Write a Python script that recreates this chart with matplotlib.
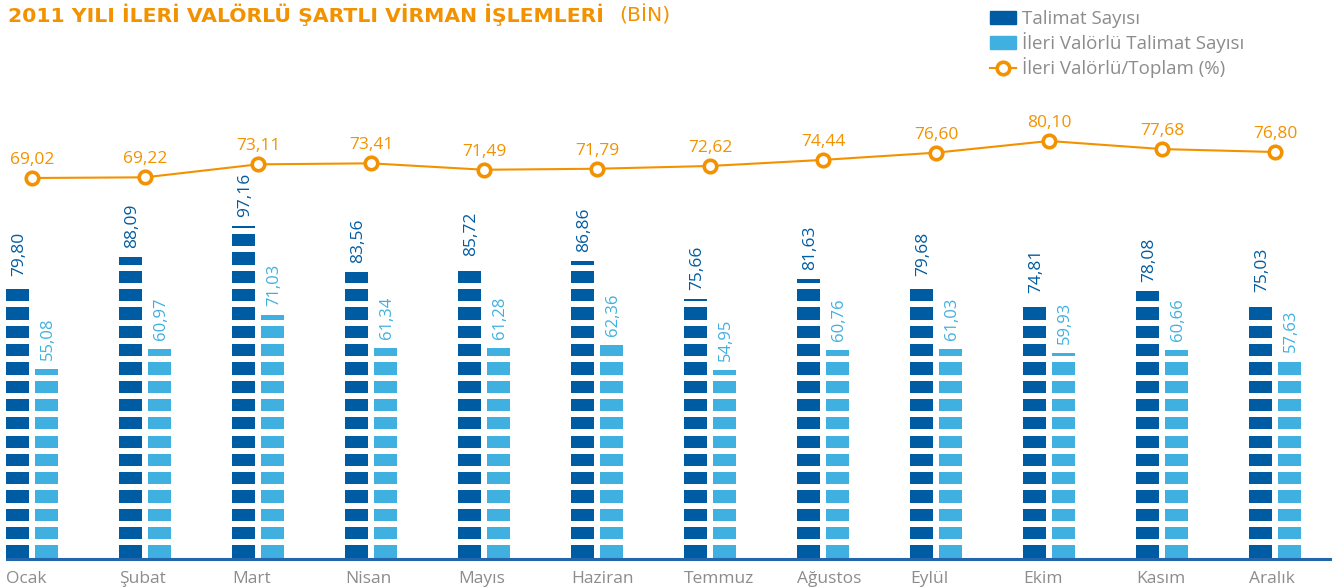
import matplotlib
matplotlib.use('Agg')
import matplotlib.pyplot as plt
from matplotlib.patches import Patch
from matplotlib.lines import Line2D

# %%
months = ['Ocak', 'Şubat', 'Mart', 'Nisan', 'Mayıs', 'Haziran',
          'Temmuz', 'Ağustos', 'Eylül', 'Ekim', 'Kasım', 'Aralık']
talimat = [79.80, 88.09, 97.16, 83.56, 85.72, 86.86, 75.66, 81.63, 79.68, 74.81, 78.08, 75.03]
ileri_valorlu = [55.08, 60.97, 71.03, 61.34, 61.28, 62.36, 54.95, 60.76, 61.03, 59.93, 60.66, 57.63]
oran = [69.02, 69.22, 73.11, 73.41, 71.49, 71.79, 72.62, 74.44, 76.60, 80.10, 77.68, 76.80]

legend_labels = ['Talimat Sayısı', 'İleri Valörlü Talimat Sayısı', 'İleri Valörlü/Toplam (%)']
title_main = '2011 YILI İLERİ VALÖRLÜ ŞARTLI VİRMAN İŞLEMLERİ'
title_unit = '(BİN)'

DARK = '#005ca2'
LIGHT = '#40b0e0'
ORANGE = '#f39200'
GREY = '#8c8c8c'

plt.rcParams['font.family'] = ['Open Sans', 'DejaVu Sans']
TITLE_FONT = ['DejaVu Sans']


def fmt(v):
    return f'{v:.2f}'.replace('.', ',')


def segmented_bars(ax, xs, values, width, color, pitch, block):
    # each bar is a stack of small blocks with white gaps
    bx, bb, bh = [], [], []
    for x, v in zip(xs, values):
        k = 0
        while k * pitch < v:
            bottom = k * pitch
            bx.append(x)
            bb.append(bottom)
            bh.append(min(block, v - bottom))
            k += 1
    ax.bar(bx, bh, width=width, bottom=bb, color=color, linewidth=0, zorder=2)


# %%
W, H = 1335, 587
fig = plt.figure(figsize=(W / 100, H / 100), dpi=100)
ax = fig.add_axes([0, 0, 1, 1])

group_px = 113.0
px_per_unit = 3.415
base_px = 29.5
ax.set_xlim(-32 / group_px, (W - 32) / group_px)
ax.set_ylim(-base_px / px_per_unit, (H - base_px) / px_per_unit)
ax.axis('off')

bar_w = 23 / group_px
off = 14.5 / group_px
pitch = 18.3 / px_per_unit
block = 12.2 / px_per_unit

x = list(range(len(months)))
x_dark = [i - off for i in x]
x_light = [i + off for i in x]

segmented_bars(ax, x_dark, talimat, bar_w, DARK, pitch, block)
segmented_bars(ax, x_light, ileri_valorlu, bar_w, LIGHT, pitch, block)

for xd, v in zip(x_dark, talimat):
    ax.annotate(fmt(v), (xd, v), xytext=(1, 6.5), textcoords='offset points',
                rotation=90, ha='center', va='bottom', color=DARK, fontsize=12.5)
for xl, v in zip(x_light, ileri_valorlu):
    ax.annotate(fmt(v), (xl, v), xytext=(1, 6.5), textcoords='offset points',
                rotation=90, ha='center', va='bottom', color=LIGHT, fontsize=12)

ax.axhline(-0.3, xmin=7 / W, xmax=1330 / W, color='#2466ab', lw=2.2, zorder=3)

for xd, m in zip(x_dark, months):
    ax.text(xd - bar_w / 2, -6.2, m, ha='left', va='center', color=GREY, fontsize=12.5)

# %% line on its own scale
ax2 = ax.twinx()
ax2.set_position([0, 0, 1, 1])
line_px = 3.34
ax2.set_ylim(69.02 - 409 / line_px, 69.02 + (H - 409) / line_px)
ax2.axis('off')
ax2.plot(x, oran, color=ORANGE, lw=1.5, marker='o', ms=9, mfc='white',
         mec=ORANGE, mew=2.6, zorder=4)
for i, v in zip(x, oran):
    ax2.annotate(fmt(v), (i, v), xytext=(0, 10), textcoords='offset points',
                 ha='center', va='baseline', color=ORANGE, fontsize=12.5)

# %% title: size it so the bold part is ~595 px wide like the original
t1 = fig.text(8 / W, 1 - 22 / H, title_main, ha='left', va='baseline',
              color=ORANGE, fontsize=15, fontweight='bold', family=TITLE_FONT)
fig.canvas.draw()
tw = t1.get_window_extent().width
t1.set_fontsize(min(15.5, 15 * 595 / tw))
ax.annotate(title_unit, xy=(1, 0), xycoords=t1, xytext=(11, 0), textcoords='offset points',
            ha='left', va='bottom', color=ORANGE, fontsize=t1.get_fontsize(),
            family=TITLE_FONT, annotation_clip=False)

handles = [Patch(color=DARK), Patch(color=LIGHT),
           Line2D([], [], color=ORANGE, lw=1.5, marker='o', ms=9, mfc='white',
                  mec=ORANGE, mew=2.6)]
fig.legend(handles, legend_labels, loc='upper left', bbox_to_anchor=(990 / W, 1 - 10 / H),
           frameon=False, fontsize=13.5, labelcolor=GREY, handlelength=1.4,
           handletextpad=0.3, labelspacing=0.22, borderaxespad=0, borderpad=0)

fig.savefig('out.png', dpi=100)
